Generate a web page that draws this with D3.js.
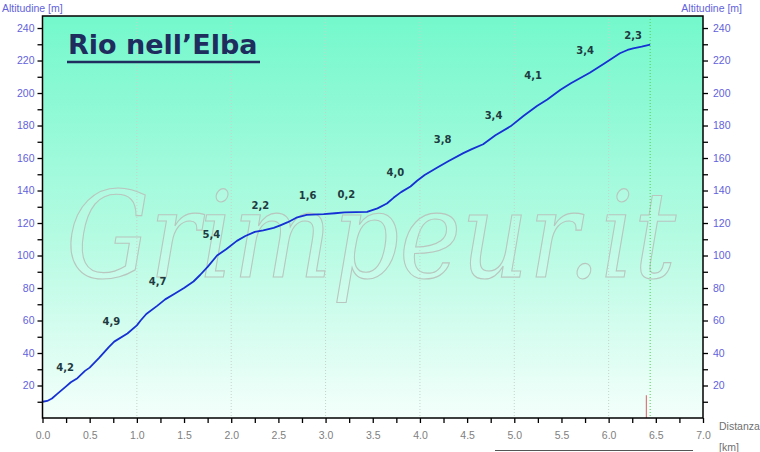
<!DOCTYPE html>
<html>
<head>
<meta charset="utf-8">
<script src="https://cdn.jsdelivr.net/npm/d3@7"></script>
<style>
  html, body { margin: 0; padding: 0; background: #ffffff; }
  svg { display: block; }
</style>
</head>
<body>
<svg id="chart" width="760" height="452"></svg>
<script>
// ---------- data ----------
const title = "Rio nell’Elba";
const watermark = "Grimpeur.it";
const distanceKm = [0.00,0.05,0.10,0.15,0.20,0.25,0.30,0.37,0.45,0.50,0.60,0.70,0.76,0.90,1.00,1.04,1.10,1.215,1.30,1.40,1.50,1.60,1.67,1.75,1.85,1.95,2.06,2.15,2.25,2.34,2.45,2.52,2.60,2.70,2.80,2.98,3.10,3.20,3.44,3.55,3.65,3.72,3.80,3.90,3.97,4.05,4.18,4.30,4.46,4.55,4.67,4.80,4.96,5.10,5.24,5.35,5.49,5.60,5.80,5.95,6.12,6.20,6.26,6.35,6.44];
const altitudeM  = [10,10.5,12,14.5,17,19.5,22,24.5,29,31,37,43.5,47,52,57,60,64,69,73,76.5,80,84,88,93,100,104,109,112,114.5,115.5,117,118.5,120.5,123.5,125,125.5,126,126.5,126.8,129,132,135.5,139,142.5,146,149.5,154,158,163,165.5,168.5,174,179.5,186,192,196,202,206,212.5,218,224.5,226.5,227.5,228.5,229.8];
const gradeLabels = ["4,2","4,9","4,7","5,4","2,2","1,6","0,2","4,0","3,8","3,4","4,1","3,4","2,3"];
const gradeLabelKm  = [0.24,0.73,1.22,1.79,2.31,2.81,3.22,3.74,4.24,4.78,5.20,5.75,6.26];
const gradeLabelAlt = [31.4,59.7,84.3,113.2,131,137.2,137.8,151.4,171.7,186.5,211,226.5,235.7];
const xTickValues = [0,0.25,0.5,0.75,1,1.25,1.5,1.75,2,2.25,2.5,2.75,3,3.25,3.5,3.75,4,4.25,4.5,4.75,5,5.25,5.5,5.75,6,6.25,6.5,6.75,7];
const yTickValues = [10,20,30,40,50,60,70,80,90,100,110,120,130,140,150,160,170,180,190,200,210,220,230,240];
const gridKm = [1,2,3,4,5,6];
const finishKm = 6.44;
const markerKm = 6.4;
const markerAlt = 14;
const yLabel = "Altitudine [m]";
const xLabel1 = "Distanza";
const xLabel2 = "[km]";

// ---------- layout ----------
const svg = d3.select("#chart");
const L = 42.5, R = 703, T = 16, B = 418;
const x = d3.scaleLinear().domain([0, 7]).range([L, R]);
const y = d3.scaleLinear().domain([0, 247.4]).range([B, T]);

const defs = svg.append("defs");
const grad = defs.append("linearGradient").attr("id", "bg")
  .attr("x1", 0).attr("y1", 0).attr("x2", 0).attr("y2", 1);
grad.append("stop").attr("offset", "0%").attr("stop-color", "#74f8cc");
grad.append("stop").attr("offset", "55%").attr("stop-color", "#b4fbe2");
grad.append("stop").attr("offset", "100%").attr("stop-color", "#f4fffb");

svg.append("rect").attr("x", L).attr("y", T).attr("width", R - L).attr("height", B - T)
  .attr("fill", "url(#bg)");

// watermark
svg.append("text")
  .attr("x", 66).attr("y", 277)
  .attr("textLength", 610).attr("lengthAdjust", "spacingAndGlyphs")
  .style("font-family", "'DejaVu Serif', 'Liberation Serif', serif")
  .style("font-style", "italic")
  .style("font-size", "120px")
  .attr("fill", "rgba(255,255,255,0.12)")
  .attr("stroke", "#b8c6bf").attr("stroke-width", 1.2)
  .text(watermark);

// grid
svg.append("g").selectAll("line").data(gridKm).join("line")
  .attr("x1", d => x(d)).attr("x2", d => x(d))
  .attr("y1", T).attr("y2", B)
  .attr("stroke", "#c4d4cc").attr("stroke-width", 1)
  .attr("stroke-dasharray", "1,2");

// finish line & marker
svg.append("line")
  .attr("x1", x(finishKm)).attr("x2", x(finishKm)).attr("y1", T).attr("y2", B)
  .attr("stroke", "#55cc55").attr("stroke-width", 1).attr("stroke-dasharray", "1,2");
svg.append("line")
  .attr("x1", x(markerKm)).attr("x2", x(markerKm)).attr("y1", y(0)).attr("y2", y(markerAlt))
  .attr("stroke", "#e07878").attr("stroke-width", 1.2);

// profile
const pts = distanceKm.map((d, i) => [d, altitudeM[i]]);
svg.append("path").datum(pts)
  .attr("fill", "none").attr("stroke", "#1530d4").attr("stroke-width", 1.8)
  .attr("stroke-linejoin", "round")
  .attr("d", d3.line().x(d => x(d[0])).y(d => y(d[1])));

// grade labels
svg.append("g").selectAll("text").data(gradeLabels).join("text")
  .attr("x", (d, i) => x(gradeLabelKm[i]))
  .attr("y", (d, i) => y(gradeLabelAlt[i]) + 4)
  .attr("text-anchor", "middle")
  .style("font-family", "'DejaVu Sans', Verdana, sans-serif")
  .style("font-weight", "bold").style("font-size", "10px")
  .attr("fill", "#1e3a40")
  .text(d => d);

// frame
svg.append("rect").attr("x", L).attr("y", T).attr("width", R - L).attr("height", B - T)
  .attr("fill", "none").attr("stroke", "#000").attr("stroke-width", 1.5);

// axes
const fontAx = "'Liberation Sans', Arial, sans-serif";
const yLeft = svg.append("g").attr("transform", `translate(${L},0)`)
  .call(d3.axisLeft(y).tickValues(yTickValues).tickSize(5).tickPadding(3)
    .tickFormat(d => d % 20 === 0 ? d : ""));
const yRight = svg.append("g").attr("transform", `translate(${R},0)`)
  .call(d3.axisRight(y).tickValues(yTickValues).tickSize(5).tickPadding(5)
    .tickFormat(d => d % 20 === 0 ? d : ""));
const xBottom = svg.append("g").attr("transform", `translate(0,${B})`)
  .call(d3.axisBottom(x).tickValues(xTickValues).tickSize(5).tickPadding(9)
    .tickFormat(d => (d * 2) % 1 === 0 ? d3.format(".1f")(d) : ""));
[yLeft, yRight, xBottom].forEach(g => {
  g.select(".domain").remove();
  g.selectAll(".tick line").attr("stroke", "#000").attr("stroke-width", 1.3);
  g.selectAll("text").style("font-family", fontAx).style("font-size", "10.5px");
});
yLeft.selectAll("text").attr("fill", "#6262dc");
yRight.selectAll("text").attr("fill", "#6262dc");
xBottom.selectAll("text").attr("fill", "#808080");

// axis titles
svg.append("text").attr("x", 2).attr("y", 12)
  .style("font-family", fontAx).style("font-size", "10.5px").attr("fill", "#6262dc").text(yLabel);
svg.append("text").attr("x", 742).attr("y", 12).attr("text-anchor", "end")
  .style("font-family", fontAx).style("font-size", "10.5px").attr("fill", "#6262dc").text(yLabel);
svg.append("text").attr("x", 719).attr("y", 430)
  .style("font-family", fontAx).style("font-size", "10.5px").attr("fill", "#707070").text(xLabel1);
svg.append("text").attr("x", 719).attr("y", 451)
  .style("font-family", fontAx).style("font-size", "10.5px").attr("fill", "#707070").text(xLabel2);
svg.append("line").attr("x1", 495).attr("x2", 693).attr("y1", 450.5).attr("y2", 450.5)
  .attr("stroke", "#555").attr("stroke-width", 1);

// title
svg.append("text").attr("x", 68).attr("y", 54)
  .style("font-family", "'DejaVu Sans', Verdana, sans-serif")
  .style("font-weight", "bold").style("font-size", "27px")
  .attr("fill", "#1e2d5e").text(title);
svg.append("line").attr("x1", 67).attr("x2", 260).attr("y1", 62).attr("y2", 62)
  .attr("stroke", "#1e2d5e").attr("stroke-width", 2.5);
</script>
</body>
</html>
